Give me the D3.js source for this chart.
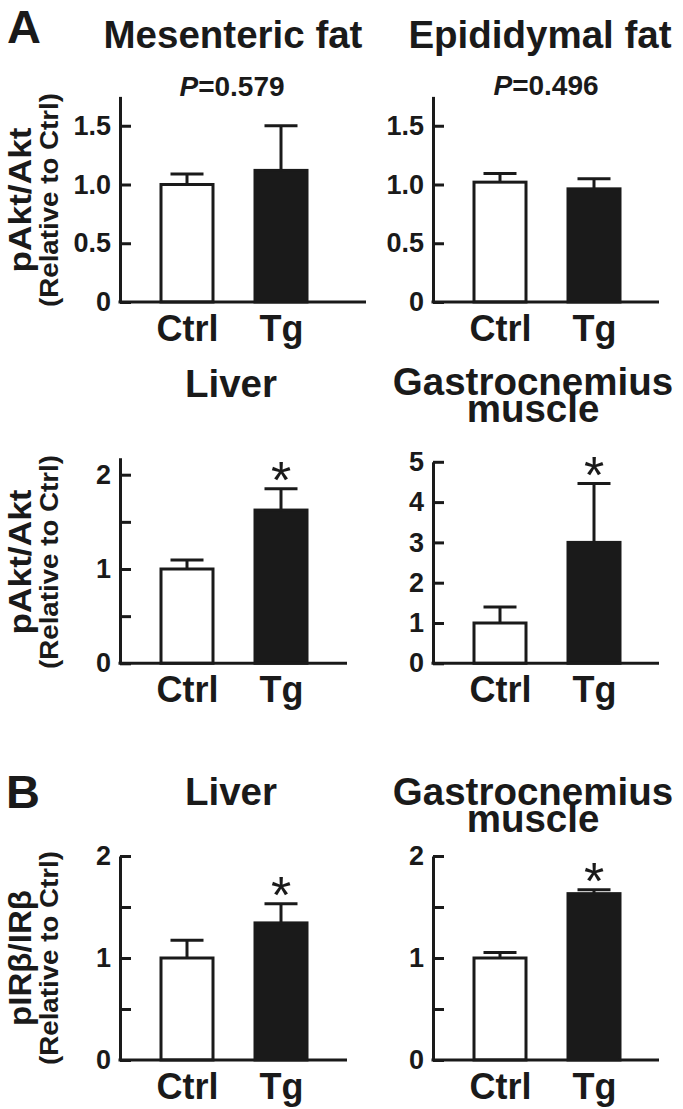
<!DOCTYPE html>
<html>
<head>
<meta charset="utf-8">
<script src="https://cdn.jsdelivr.net/npm/d3@7"></script>
<style>
  html, body { margin: 0; padding: 0; background: #ffffff; }
  svg { display: block; }
  text { font-family: "Liberation Sans", Arial, sans-serif; fill: #1a1a1a; }
</style>
</head>
<body>
<svg id="chart" width="683" height="1109"></svg>
<script>
// ---------------- DATA ----------------
const groups = ["Ctrl", "Tg"];
const sectionLabels = ["A", "B"];
const panelTitles = [
  ["Mesenteric fat"], ["Epididymal fat"],
  ["Liver"], ["Gastrocnemius", "muscle"],
  ["Liver"], ["Gastrocnemius", "muscle"]
];
const means = [
  [1.00, 1.12],
  [1.02, 0.963],
  [1.00, 1.625],
  [1.00, 3.00],
  [1.00, 1.344],
  [1.00, 1.631]
];
const errors = [
  [0.09, 0.38],
  [0.073, 0.085],
  [0.095, 0.225],
  [0.40, 1.46],
  [0.175, 0.189],
  [0.053, 0.039]
];
const pValues = ["0.579", "0.496", null, null, null, null];
const significant = [[false, false], [false, false], [false, true], [false, true], [false, true], [false, true]];
const yMax = [1.75, 1.75, 2.18, 5, 2, 2];
const tickValues = [
  [0, 0.5, 1, 1.5],
  [0, 0.5, 1, 1.5],
  [0, 0.5, 1, 1.5, 2],
  [0, 1, 2, 3, 4, 5],
  [0, 0.5, 1, 1.5, 2],
  [0, 0.5, 1, 1.5, 2]
];
const tickLabels = [
  ["0", "0.5", "1.0", "1.5"],
  ["0", "0.5", "1.0", "1.5"],
  ["0", "", "1", "", "2"],
  ["0", "1", "2", "3", "4", "5"],
  ["0", "", "1", "", "2"],
  ["0", "", "1", "", "2"]
];
const yAxisTitles = [
  ["pAkt/Akt", "(Relative to Ctrl)"],
  ["pAkt/Akt", "(Relative to Ctrl)"],
  ["pIRβ/IRβ", "(Relative to Ctrl)"]
];

// ---------------- LAYOUT ----------------
const layout = [
  { x0: 120, x1: 366, base: 302,   ppu: 117.5, tx: 233, ty: 48 },
  { x0: 433, x1: 659, base: 302,   ppu: 117.5, tx: 540, ty: 48 },
  { x0: 120, x1: 347, base: 663.3, ppu: 94.3,  tx: 231, ty: 397 },
  { x0: 433, x1: 659, base: 663.3, ppu: 40.3,  tx: 533, ty: 395 },
  { x0: 120, x1: 347, base: 1060,  ppu: 102,   tx: 231, ty: 805 },
  { x0: 433, x1: 659, base: 1060,  ppu: 102,   tx: 533, ty: 805 }
];
const pLayout = [{ x: 232, y: 96 }, { x: 546, y: 95 }];
const rowLabelCenters = [200, 562, 958];
const sectionPos = [{ x: 7, y: 43, size: 47 }, { x: 6, y: 808, size: 47 }];

const ink = "#1a1a1a";
const svg = d3.select("#chart");

// Section labels
sectionLabels.forEach((s, i) => {
  svg.append("text")
    .attr("x", sectionPos[i].x).attr("y", sectionPos[i].y)
    .attr("font-size", sectionPos[i].size).attr("font-weight", "bold")
    .text(s);
});

// Row y-axis titles
yAxisTitles.forEach((lines, r) => {
  const cy = rowLabelCenters[r];
  svg.append("text")
    .attr("transform", `translate(31,${cy}) rotate(-90)`)
    .attr("text-anchor", "middle")
    .attr("font-size", 31).attr("font-weight", "bold")
    .attr("textLength", r === 2 ? 136 : 145)
    .attr("lengthAdjust", "spacingAndGlyphs")
    .text(lines[0]);
  svg.append("text")
    .attr("transform", `translate(58,${cy}) rotate(-90)`)
    .attr("text-anchor", "middle")
    .attr("font-size", 26).attr("font-weight", "bold")
    .attr("textLength", 214)
    .attr("lengthAdjust", "spacingAndGlyphs")
    .text(lines[1]);
});

// Panels
layout.forEach((L, i) => {
  const g = svg.append("g");
  const y = d3.scaleLinear().domain([0, yMax[i]]).range([L.base, L.base - yMax[i] * L.ppu]);
  const x = d3.scalePoint().domain(groups).range([L.x0 + 67, L.x0 + 161]);
  const barW = 52, capW = 33;

  // Title (one text element, lines as tspans)
  const title = g.append("text")
    .attr("x", L.tx).attr("y", L.ty)
    .attr("text-anchor", "middle")
    .attr("font-size", 38.5).attr("font-weight", "bold");
  panelTitles[i].forEach((t, k) => {
    title.append("tspan")
      .attr("x", L.tx).attr("dy", k === 0 ? 0 : 27)
      .text(t);
  });

  // P value
  if (pValues[i]) {
    const pt = g.append("text")
      .attr("x", pLayout[i].x).attr("y", pLayout[i].y)
      .attr("text-anchor", "middle")
      .attr("font-size", 28).attr("font-weight", "bold");
    pt.append("tspan").attr("font-style", "italic").text("P");
    pt.append("tspan").text("=" + pValues[i]);
  }

  // Bars
  groups.forEach((grp, j) => {
    const m = means[i][j], e = errors[i][j];
    const cx = x(grp);
    g.append("line")
      .attr("x1", cx).attr("x2", cx)
      .attr("y1", y(m)).attr("y2", y(m + e))
      .attr("stroke", ink).attr("stroke-width", 3);
    g.append("line")
      .attr("x1", cx - capW / 2).attr("x2", cx + capW / 2)
      .attr("y1", y(m + e)).attr("y2", y(m + e))
      .attr("stroke", ink).attr("stroke-width", 3);
    g.append("rect")
      .attr("x", cx - barW / 2).attr("width", barW)
      .attr("y", y(m)).attr("height", y(0) - y(m))
      .attr("fill", j === 0 ? "#ffffff" : ink)
      .attr("stroke", ink).attr("stroke-width", 3);
    if (significant[i][j]) {
      const fs = 52;
      g.append("text")
        .attr("x", cx).attr("y", y(m + e) - 21 + 0.58 * fs)
        .attr("text-anchor", "middle")
        .attr("font-size", fs)
        .text("*");
    }
  });

  // Y axis
  const yAxis = d3.axisLeft(y)
    .tickValues(tickValues[i])
    .tickFormat((d, k) => tickLabels[i][k])
    .tickSizeInner(-11).tickSizeOuter(0).tickPadding(9);
  const ya = g.append("g").attr("transform", `translate(${L.x0},0)`).call(yAxis);
  ya.select(".domain").attr("stroke", ink).attr("stroke-width", 3);
  ya.selectAll(".tick line").attr("stroke", ink).attr("stroke-width", 3);
  ya.selectAll(".tick text")
    .attr("font-size", 27).attr("font-weight", "bold")
    .attr("font-family", "Liberation Sans, Arial, sans-serif")
    .attr("fill", ink);

  // X axis line
  g.append("line")
    .attr("x1", L.x0 - 1.5).attr("x2", L.x1)
    .attr("y1", L.base).attr("y2", L.base)
    .attr("stroke", ink).attr("stroke-width", 3);

  // X labels
  const xAxis = d3.axisBottom(x).tickSize(0).tickPadding(0);
  const xa = g.append("g").attr("transform", `translate(0,${L.base})`).call(xAxis);
  xa.select(".domain").remove();
  xa.selectAll(".tick text")
    .attr("y", 39).attr("dy", null)
    .attr("font-size", 36).attr("font-weight", "bold")
    .attr("font-family", "Liberation Sans, Arial, sans-serif")
    .attr("fill", ink);
});
</script>
</body>
</html>
